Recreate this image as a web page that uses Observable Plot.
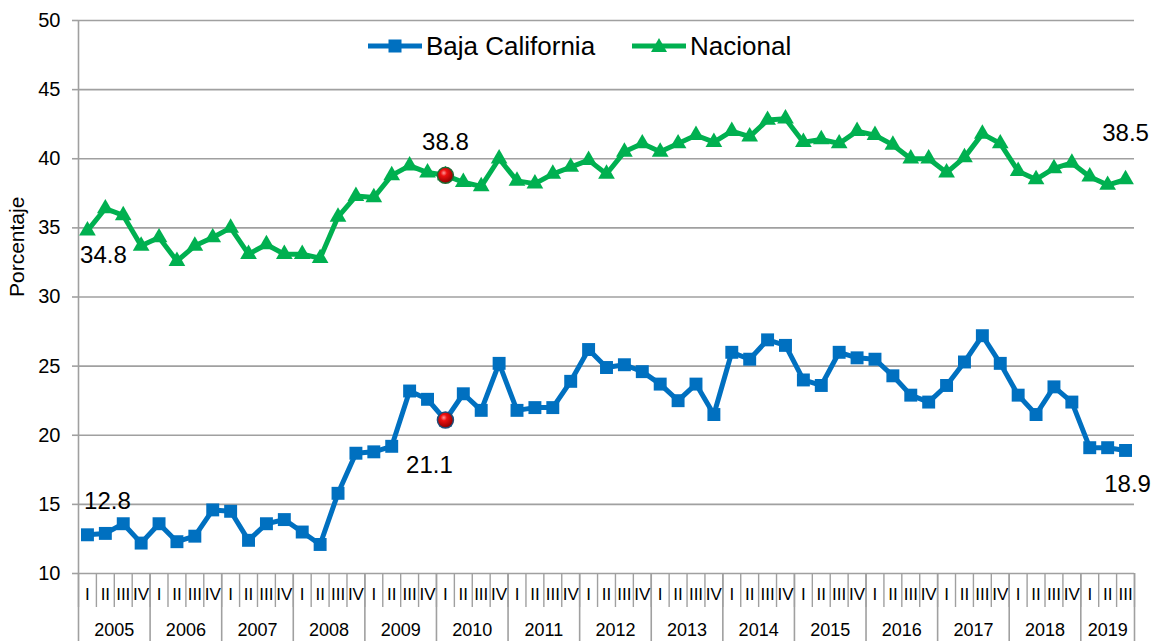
<!DOCTYPE html>
<html>
<head>
<meta charset="utf-8">
<script src="https://cdn.jsdelivr.net/npm/d3@7"></script>
<script src="https://cdn.jsdelivr.net/npm/@observablehq/plot@0.6"></script>
<style>
  html, body { margin: 0; padding: 0; background: #fff; }
  #wrap { position: relative; width: 1154px; height: 641px; font-family: "Liberation Sans", Arial, sans-serif; }
  .leg { position: absolute; top: 30px; height: 32px; display: flex; align-items: center; font-size: 26px; color: #000; }
  .leg svg { margin-right: 4px; }
</style>
</head>
<body>
<div id="wrap">
  <div id="chart"></div>
  <div class="leg" style="left:368px">
    <svg width="54" height="20"><line x1="0" y1="10" x2="54" y2="10" stroke="#0070C0" stroke-width="5"/><rect x="20.5" y="3.5" width="13" height="13" fill="#0070C0"/></svg>
    <span>Baja California</span>
  </div>
  <div class="leg" style="left:632px">
    <svg width="54" height="20"><line x1="0" y1="10" x2="54" y2="10" stroke="#00B050" stroke-width="5"/><path d="M27,2 L35,16 L19,16 Z" fill="#00B050"/></svg>
    <span>Nacional</span>
  </div>
</div>
<script>
const quarterNames = ["I", "II", "III", "IV"];
const years = [2005, 2006, 2007, 2008, 2009, 2010, 2011, 2012, 2013, 2014, 2015, 2016, 2017, 2018, 2019];
const quartersPerYear = [4, 4, 4, 4, 4, 4, 4, 4, 4, 4, 4, 4, 4, 4, 3];

const bajaCalifornia = [
  12.8, 12.9, 13.6, 12.2, 13.6, 12.3, 12.7, 14.6, 14.5, 12.4,
  13.6, 13.9, 13.0, 12.1, 15.8, 18.7, 18.8, 19.2, 23.2, 22.6,
  21.1, 23.0, 21.8, 25.2, 21.8, 22.0, 22.0, 23.9, 26.2, 24.9,
  25.1, 24.6, 23.7, 22.5, 23.7, 21.5, 26.0, 25.5, 26.9, 26.5,
  24.0, 23.6, 26.0, 25.6, 25.5, 24.3, 22.9, 22.4, 23.6, 25.3,
  27.2, 25.2, 22.9, 21.5, 23.5, 22.4, 19.1, 19.1, 18.9
];
const nacional = [
  34.8, 36.4, 35.9, 33.7, 34.3, 32.6, 33.7, 34.3, 35.0, 33.1,
  33.8, 33.1, 33.1, 32.8, 35.8, 37.3, 37.2, 38.8, 39.5, 39.0,
  38.8, 38.3, 38.0, 40.0, 38.4, 38.2, 38.9, 39.4, 39.9, 38.9,
  40.5, 41.1, 40.5, 41.1, 41.7, 41.2, 42.0, 41.6, 42.8, 42.9,
  41.2, 41.4, 41.1, 42.0, 41.7, 41.0, 40.0, 40.0, 39.0, 40.1,
  41.8, 41.1, 39.1, 38.5, 39.3, 39.7, 38.7, 38.1, 38.5
];
const yTicks = [10, 15, 20, 25, 30, 35, 40, 45, 50];
const highlightIndex = 20;            // 2010 I (red marker)

// build table
const rows = [];
let k = 0;
years.forEach((yr, yi) => {
  for (let q = 0; q < quartersPerYear[yi]; q++) {
    rows.push({i: k, year: yr, q: quarterNames[q], baja: bajaCalifornia[k], nac: nacional[k]});
    k++;
  }
});
const n = rows.length;
const yearStarts = [];
const yearCenters = [];
let s = 0;
quartersPerYear.forEach((c) => { yearStarts.push(s - 0.5); yearCenters.push(s + (c - 1) / 2); s += c; });
yearStarts.push(n - 0.5);
const quarterEdges = d3.range(n + 1).map(i => i - 0.5);

const hl = rows.filter(d => d.i === highlightIndex);
const font = "Liberation Sans, Arial, sans-serif";
const grid = "#a0a0a0";

// value labels: [index, series key, dx, dy]
const labelSpecs = [
  [0, "nac", 16, 25], [highlightIndex, "nac", 0, -33], [n - 1, "nac", 0, -46],
  [0, "baja", 20, -33], [highlightIndex, "baja", -16, 45], [n - 1, "baja", 2, 34]
];
const labelMarks = labelSpecs.map(([idx, key, dx, dy]) =>
  Plot.text([rows[idx]], {x: "i", y: key, text: d => d[key].toFixed(1), fontSize: 24, dx, dy, fill: "black"}));

const chart = Plot.plot({
  width: 1154,
  height: 641,
  marginLeft: 78,
  marginRight: 20,
  marginTop: 20,
  marginBottom: 68,
  style: {fontFamily: font, background: "white", color: "black", overflow: "visible"},
  x: {domain: [-0.5, n - 0.5], axis: null},
  y: {domain: [10, 50], axis: null},
  marks: [
    Plot.ruleY(yTicks, {stroke: grid, strokeWidth: 1.6}),
    Plot.ruleX([-0.5], {stroke: grid, strokeWidth: 1.6}),
    Plot.axisY({ticks: yTicks, tickSize: 6, tickPadding: 12, fontSize: 20, stroke: grid, strokeWidth: 1.6,
      label: null, tickFormat: d => d}),
    Plot.text(["Porcentaje"], {frameAnchor: "left", text: d => d, rotate: -90, dx: -61, fontSize: 21, fill: "black"}),
    Plot.axisX({ticks: quarterEdges, tickSize: 34, tickFormat: () => "", stroke: grid, strokeWidth: 1.4, label: null}),
    Plot.axisX({ticks: yearStarts, tickSize: 68, tickFormat: () => "", stroke: grid, strokeWidth: 1.6, label: null}),
    Plot.axisX({ticks: d3.range(n), tickSize: 0, tickPadding: 14, fontSize: 17, tickFormat: i => rows[i].q, label: null}),
    Plot.axisX({ticks: yearCenters, tickSize: 0, tickPadding: 50, fontSize: 18, tickFormat: (d, j) => String(years[j]), label: null}),
    // series
    Plot.line(rows, {x: "i", y: "nac", stroke: "#00B050", strokeWidth: 5}),
    Plot.dot(rows, {x: "i", y: "nac", symbol: "triangle", r: 6.2, fill: "#00B050", stroke: "none"}),
    Plot.line(rows, {x: "i", y: "baja", stroke: "#0070C0", strokeWidth: 5}),
    Plot.dot(rows, {x: "i", y: "baja", symbol: "square", r: 7.3, fill: "#0070C0", stroke: "none"}),
    Plot.dot(hl, {x: "i", y: "nac", r: 8, fill: "url(#redball)", stroke: "#1e6b34", strokeWidth: 1.5}),
    Plot.dot(hl, {x: "i", y: "baja", r: 8, fill: "url(#redball)", stroke: "#1f4e79", strokeWidth: 1.5}),
    ...labelMarks
  ]
});

const defs = d3.select(chart).insert("defs", ":first-child");
const g = defs.append("radialGradient").attr("id", "redball").attr("cx", "40%").attr("cy", "35%").attr("r", "65%");
g.append("stop").attr("offset", "0%").attr("stop-color", "#ff9a9a");
g.append("stop").attr("offset", "30%").attr("stop-color", "#ee1010");
g.append("stop").attr("offset", "100%").attr("stop-color", "#8a0000");

document.getElementById("chart").appendChild(chart);
</script>
</body>
</html>
